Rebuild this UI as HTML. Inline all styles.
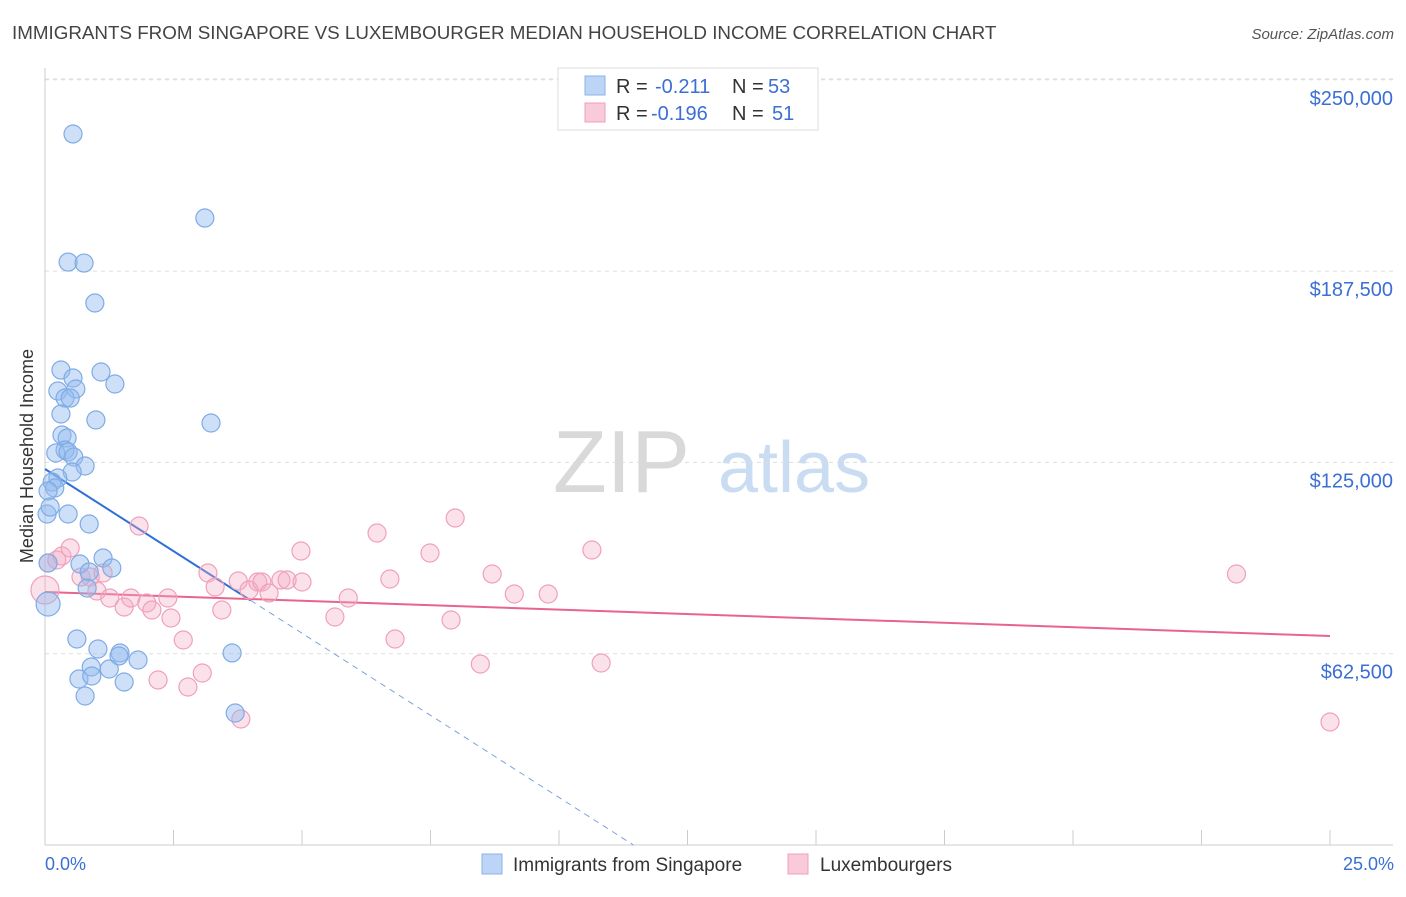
<!DOCTYPE html>
<html><head><meta charset="utf-8"><style>
body{margin:0;background:#fff;font-family:"Liberation Sans",sans-serif;}
svg text{font-family:"Liberation Sans",sans-serif;}
</style></head><body>
<svg id="chart" width="1406" height="892" xmlns="http://www.w3.org/2000/svg">
<text x="12" y="39" font-size="18.8" fill="#444">IMMIGRANTS FROM SINGAPORE VS LUXEMBOURGER MEDIAN HOUSEHOLD INCOME CORRELATION CHART</text>
<text x="1394" y="39" font-size="15" fill="#555" font-style="italic" text-anchor="end">Source: ZipAtlas.com</text>
<g>
<text x="553" y="492" font-size="88" fill="#d9d9d9" font-family="Liberation Serif, serif">ZIP</text>
<text x="718" y="492" font-size="72" fill="#c9dcf2">atlas</text>
</g>
<g id="grid"></g><g id="axes"></g><g id="trends"></g><g id="points"></g>
<text x="33" y="456" font-size="18" fill="#333" text-anchor="middle" transform="rotate(-90 33 456)">Median Household Income</text>
<text x="45" y="870" font-size="18" fill="#3b6fd4">0.0%</text>
<text x="1394" y="870" font-size="18" fill="#3b6fd4" text-anchor="end">25.0%</text>
<g>
<rect x="558" y="68" width="260" height="62" fill="#fff" stroke="#ddd"/>
<g>
<rect x="585" y="76" width="20" height="19" fill="#bcd4f5" stroke="#8ab4e8"/>
<text x="616" y="93" font-size="20" fill="#333">R = </text><text x="655" y="93" font-size="20" fill="#3b6fd4">-0.211</text>
<text x="732" y="93" font-size="20" fill="#333">N = </text><text x="768" y="93" font-size="20" fill="#3b6fd4">53</text></g>
<g>
<rect x="585" y="103" width="20" height="19" fill="#f9cad9" stroke="#f0a0bb"/>
<text x="616" y="120" font-size="20" fill="#333">R = </text><text x="651" y="120" font-size="20" fill="#3b6fd4">-0.196</text>
<text x="732" y="120" font-size="20" fill="#333">N = </text><text x="772" y="120" font-size="20" fill="#3b6fd4">51</text></g>
</g>
<g>
<g><rect x="482" y="854" width="20" height="20" fill="#bcd4f5" stroke="#8ab4e8"/><text x="513" y="871" font-size="19" fill="#333">Immigrants from Singapore</text></g>
<g><rect x="788" y="854" width="20" height="20" fill="#f9cad9" stroke="#f0a0bb"/><text x="820" y="871" font-size="19" fill="#333">Luxembourgers</text></g>
</g>
</svg>
<script>
const yTicks=[62500,125000,187500,250000];
const yTickLabels=["$62,500","$125,000","$187,500","$250,000"];
const xTicks=[0,2.5,5,7.5,10,12.5,15,17.5,20,22.5,25];
const blueX=[0.545,3.11,0.45,0.76,0.97,0.31,1.09,0.545,1.36,0.25,0.60,0.39,0.49,0.31,0.99,3.23,0.33,0.43,0.39,0.21,0.45,0.56,0.78,0.53,0.25,0.14,0.19,0.06,0.45,0.04,0.86,0.10,0.68,1.13,1.30,0.86,0.82,0.06,0.06,0.62,1.03,1.46,1.44,3.64,1.81,0.90,1.25,0.66,0.91,1.54,0.78,3.70];
const blueY=[232300,204840,190460,190130,177070,155180,154530,152570,150610,148320,148980,146030,146030,140810,138850,137870,133950,132970,129050,128070,128390,126760,123820,121860,119900,118590,116630,115650,108140,108140,104870,110420,91800,93760,90500,89190,83960,92130,78730,67300,64030,62730,61750,62730,60440,58150,57500,54230,55210,53250,48680,43120];
const pinkX=[0,0.06,0.23,0.33,0.49,0.70,0.88,1.13,1.01,1.26,1.54,1.83,1.67,1.98,2.08,2.39,2.45,2.69,2.20,2.78,3.06,3.17,3.31,3.44,3.76,3.97,4.14,4.22,4.36,4.59,4.71,5.00,4.98,5.64,5.90,6.46,6.71,6.81,7.49,7.90,7.98,8.47,8.70,9.13,9.79,10.64,10.82,3.81,23.18,25.0];
const pinkY=[83310,92130,93110,94420,97030,87560,87560,88860,82980,80690,77750,104220,80690,79060,76770,80690,74160,66970,53910,51620,56190,88860,84290,76770,86250,83310,85920,85920,82330,86580,86580,85920,96050,74490,80690,101930,86900,67300,95400,73510,106830,59130,88540,82000,82000,96380,59460,41160,88540,40180];
const blueTrend=[122840,-10730];
const blueSolidEnd=[4.0];
const pinkTrend=[82650,-574.8];
const NS="http://www.w3.org/2000/svg";
const X=v=>45+v/25*1285;
const Y=v=>845-v/62500*191.3;
function mk(p,tag,a){const e=document.createElementNS(NS,tag);for(const k in a)e.setAttribute(k,a[k]);document.getElementById(p).appendChild(e);return e;}
yTicks.forEach((t,i)=>{
 const l=mk('grid','line',{x1:45,x2:1393,y1:Y(t),y2:Y(t),stroke:'#ddd','stroke-dasharray':'4 4'});
 
 
 const tx=mk('grid','text',{x:1393,y:Y(t)+25,'font-size':20,fill:'#3b6fd4','text-anchor':'end'});
 tx.textContent=yTickLabels[i];
 
 
});
const tl=mk('grid','line',{x1:45,x2:1393,y1:79,y2:79,stroke:'#ddd','stroke-dasharray':'4 4'});


const ax=mk('axes','line',{x1:45,x2:1393,y1:845,y2:845,stroke:'#ccc'});


const ay=mk('axes','line',{x1:45,x2:45,y1:68,y2:845,stroke:'#ccc'});


xTicks.forEach(t=>{
 const l=mk('axes','line',{x1:X(t),x2:X(t),y1:830,y2:845,stroke:'#ccc'});
 
 
});
const bz=-blueTrend[0]/blueTrend[1];
const bs=mk('trends','line',{x1:X(0),y1:Y(blueTrend[0]),x2:X(blueSolidEnd[0]),y2:Y(blueTrend[0]+blueTrend[1]*blueSolidEnd[0]),stroke:'#2f6fd6','stroke-width':2});


const bd=mk('trends','line',{x1:X(blueSolidEnd[0]),y1:Y(blueTrend[0]+blueTrend[1]*blueSolidEnd[0]),x2:X(bz),y2:Y(0),stroke:'#7aa3e0','stroke-width':1,'stroke-dasharray':'6 5'});


const pt=mk('trends','line',{x1:X(0),y1:Y(pinkTrend[0]),x2:X(25),y2:Y(pinkTrend[0]+pinkTrend[1]*25),stroke:'#e8648e','stroke-width':2});


pinkX.forEach((v,i)=>{
 const c=mk('points','circle',{cx:X(v),cy:Y(pinkY[i]),r:i==0?14:9,fill:'rgba(244,170,195,0.35)',stroke:'#f0a0bb','stroke-width':1.2});
 
 
});
blueX.forEach((v,i)=>{
 const c=mk('points','circle',{cx:X(v),cy:Y(blueY[i]),r:(i==38)?12:9,fill:'rgba(147,187,238,0.45)',stroke:'#7fabe6','stroke-width':1.2});
 
 
});
</script>
</body></html>
